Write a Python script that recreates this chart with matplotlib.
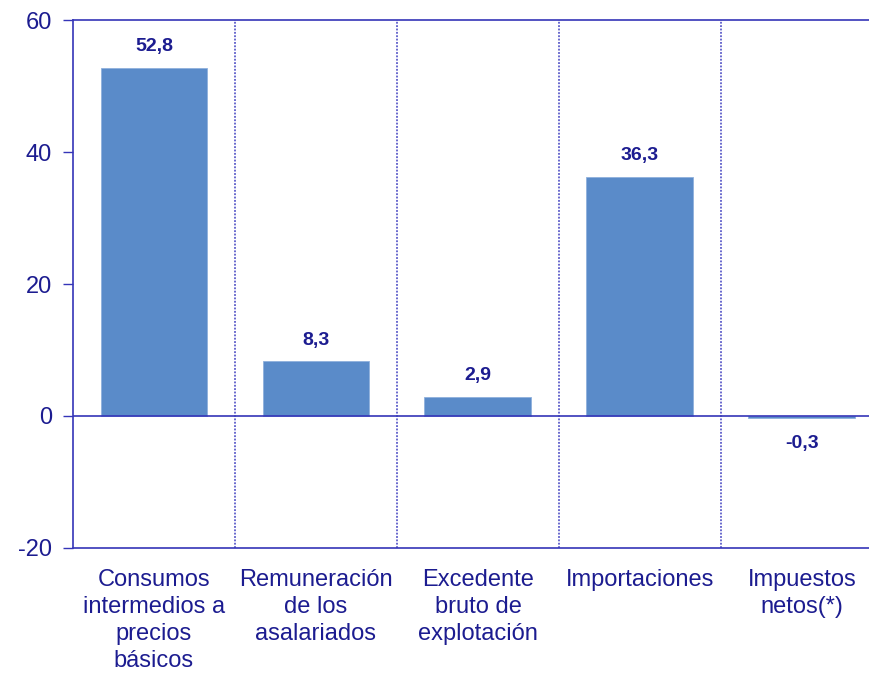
import numpy as np
import matplotlib.pyplot as plt

plt.rcParams['font.family'] = ['Liberation Sans', 'DejaVu Sans']

categories = ["Consumos\nintermedios a\nprecios\nbásicos",
              "Remuneración\nde los\nasalariados",
              "Excedente\nbruto de\nexplotación",
              "Importaciones",
              "Impuestos\nnetos(*)"]
values = [52.8, 8.3, 2.9, 36.3, -0.3]
yticks = [-20, 0, 20, 40, 60]

textColor = "#1c1c90"
lineColor = "#3535b8"
barColor = "#5a8bc9"

fig = plt.figure(figsize=(8.69, 6.73), dpi=100)
# the plot area runs a bit past the right edge of the picture
ax = fig.add_axes([0.084, 0.186, 0.932, 0.784])

x = np.arange(len(values))
ax.bar(x, values, width=0.66, color=barColor, edgecolor="#8fb0dc", linewidth=0.6, zorder=2)

ax.set_xlim(-0.5, len(values) - 0.5)
ax.set_ylim(-20, 60)
ax.set_yticks(yticks)
ax.set_yticklabels([str(t) for t in yticks], fontsize=17, color=textColor)
ax.tick_params(axis="y", length=7, width=1, color=lineColor, pad=8)

ax.set_xticks(x)
ax.set_xticklabels(categories, fontsize=17, color=textColor, linespacing=1.3, va="top")
ax.tick_params(axis="x", length=0, pad=15)

for s in ["left", "top", "bottom"]:
    ax.spines[s].set_color(lineColor)
    ax.spines[s].set_linewidth(1.2)
ax.spines["right"].set_visible(False)

ax.axhline(0, color=lineColor, linewidth=1.2, zorder=3)
for b in x[:-1] + 0.5:
    ax.axvline(b, color="#4040c0", linestyle=(0, (1.2, 1.0)), linewidth=1.1, zorder=1)

for xi, v in zip(x, values):
    label = f"{v:.1f}".replace(".", ",")
    if v >= 0:
        ax.annotate(label, (xi, v), xytext=(0, 9), textcoords="offset points",
                    ha="center", va="bottom", fontsize=14, fontweight="bold", color=textColor)
    else:
        ax.annotate(label, (xi, v), xytext=(0, -12), textcoords="offset points",
                    ha="center", va="top", fontsize=14, fontweight="bold", color=textColor)

fig.savefig("out.png", dpi=100)
